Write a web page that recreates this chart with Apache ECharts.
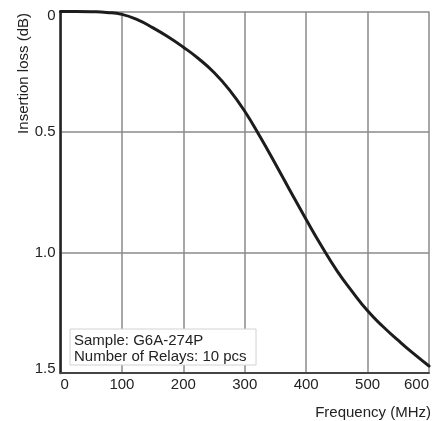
<!DOCTYPE html>
<html>
<head>
<meta charset="utf-8">
<script src="https://cdn.jsdelivr.net/npm/echarts@6/dist/echarts.min.js"></script>
<style>
html,body{margin:0;padding:0;background:#fff;}
#chart{width:432px;height:421px;}
</style>
</head>
<body>
<div id="chart"></div>
<script>
// Frequency (MHz) sample points along the curve
const freqMHz = [0, 25, 50, 75, 100, 125, 150, 175, 200, 225, 250, 275, 300,
                 325, 350, 375, 400, 425, 450, 475, 500, 525, 550, 575, 600];
// Insertion loss (dB)
const lossDb = [0, 0, 0.001, 0.004, 0.012, 0.034, 0.067, 0.105, 0.148, 0.196, 0.253, 0.325, 0.414,
                0.52, 0.633, 0.749, 0.863, 0.973, 1.075, 1.162, 1.242, 1.307, 1.365, 1.42, 1.471];
// Axis tick labels
const xTickLabels = ['0', '100', '200', '300', '400', '500', '600'];
const yTickLabels = ['0', '0.5', '1.0', '1.5'];
const noteLines = ['Sample: G6A-274P', 'Number of Relays: 10 pcs'];
const xName = 'Frequency (MHz)';
const yName = 'Insertion loss (dB)';

const FONT = 'Liberation Sans, Arial, Helvetica, sans-serif';
const chart = echarts.init(document.getElementById('chart'), null, {renderer: 'canvas'});

chart.setOption({
  backgroundColor: '#ffffff',
  animation: false,
  grid: {left: 60.5, right: 0.5, top: 11.5, bottom: 48, containLabel: false},
  xAxis: {
    type: 'value',
    min: 0, max: 600, interval: 100,
    axisLine: {show: true, onZero: false, lineStyle: {color: '#444', width: 2}},
    axisTick: {show: false},
    splitLine: {show: true, lineStyle: {color: '#8a8a8a', width: 1.5}},
    axisLabel: {
      color: '#222', fontFamily: FONT, fontSize: 15, margin: 4,
      alignMinLabel: 'left', alignMaxLabel: 'right',
      formatter: v => xTickLabels[Math.round(v / 100)]
    }
  },
  yAxis: {
    type: 'value',
    inverse: true,
    min: 0, max: 1.5, interval: 0.5,
    axisLine: {show: true, lineStyle: {color: '#222', width: 2.5}},
    axisTick: {show: false},
    splitLine: {show: true, lineStyle: {color: '#8a8a8a', width: 1.5}},
    axisLabel: {
      color: '#222', fontFamily: FONT, fontSize: 15, margin: 5, lineHeight: 9,
      verticalAlignMinLabel: 'top', verticalAlignMaxLabel: 'bottom',
      formatter: v => yTickLabels[Math.round(v / 0.5)]
    }
  },
  series: [{
    type: 'line',
    data: freqMHz.map((f, i) => [f, lossDb[i]]),
    showSymbol: false,
    smooth: true,
    clip: false,
    lineStyle: {color: '#1c1c1c', width: 3, cap: 'round', join: 'round'}
  }],
  graphic: [
    {
      type: 'rect', z: 100,
      shape: {x: 70, y: 329, width: 186, height: 36},
      style: {fill: '#ffffff', stroke: '#d2d2d2', lineWidth: 1}
    },
    {
      type: 'text', z: 101, x: 74, y: 332.5,
      style: {
        text: noteLines.join('\n'), fill: '#222',
        font: '15px ' + FONT, lineHeight: 16,
        textAlign: 'left', textVerticalAlign: 'top'
      }
    },
    {
      type: 'text', z: 101, x: 431, y: 405,
      style: {
        text: xName, fill: '#222', font: '15px ' + FONT,
        textAlign: 'right', textVerticalAlign: 'top'
      }
    },
    {
      type: 'text', z: 101, x: 23.5, y: 13, rotation: Math.PI / 2,
      style: {
        text: yName, fill: '#222', font: '15px ' + FONT,
        textAlign: 'right', textVerticalAlign: 'middle'
      }
    }
  ]
});
</script>
</body>
</html>
